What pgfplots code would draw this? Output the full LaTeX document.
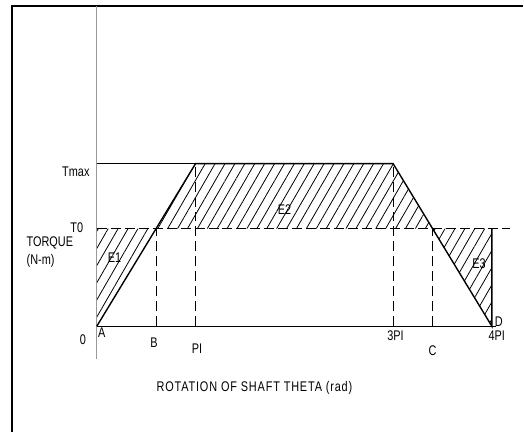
\documentclass[border=0pt]{standalone}
\usepackage{pgfplots}
\pgfplotsset{compat=1.18}
\usetikzlibrary{patterns.meta}
\usepackage{fontspec}
\setmainfont{Liberation Sans}[FakeStretch=0.78]
\newcommand{\lf}{\fontsize{14}{16}\selectfont}
\tikzset{lbl/.style={font=\lf, inner sep=0pt}}
\begin{document}
\begin{tikzpicture}
\begin{axis}[
  width=524pt, height=433pt, scale only axis,
  xmin=-0.9798, xmax=4.3131, ymin=-0.6503, ymax=2.0061,
  axis line style={draw=none}, ticks=none, clip=false,
]
\path (rel axis cs:0,0) rectangle (rel axis cs:1,1);
% hatched energy areas
\addplot[draw=none, pattern={Lines[angle=60,distance=8.6pt,line width=0.8pt]}] coordinates {(0,0) (0,0.6) (0.6,0.6) (0,0)};
\addplot[draw=none, pattern={Lines[angle=60,distance=8.6pt,line width=0.8pt]}] coordinates {(0.6,0.6) (1,1) (3,1) (3.4,0.6) (0.6,0.6)};
\addplot[draw=none, pattern={Lines[angle=60,distance=8.6pt,line width=0.8pt]}] coordinates {(3.4,0.6) (4,0) (4,0.6) (3.4,0.6)};
% frame
\addplot[black, line width=2.4pt] coordinates {(-0.859,-0.6503) (-0.859,1.969) (4.3131,1.969)};
% y axis
\addplot[black!40, line width=1.3pt] coordinates {(0,-0.2) (0,1.969)};
% base line and torque curve
\addplot[black, line width=1.4pt] coordinates {(0,0) (4.04,0)};
\addplot[black, line width=1.4pt] coordinates {(0,0) (1,1) (3,1) (4,0) (4,0.6)};
\addplot[black, line width=1.4pt] coordinates {(0,1) (1,1)};
% mean torque and dashed verticals
\addplot[black, line width=1.4pt, dash pattern=on 10pt off 4pt] coordinates {(0,0.6) (4.18,0.6)};
\addplot[black, line width=1.0pt, dash pattern=on 10pt off 5pt] coordinates {(0.6,0) (0.6,0.6)};
\addplot[black, line width=1.0pt, dash pattern=on 10pt off 5pt] coordinates {(1,0) (1,1)};
\addplot[black, line width=1.0pt, dash pattern=on 10pt off 5pt] coordinates {(3,0) (3,1)};
\addplot[black, line width=1.0pt, dash pattern=on 10pt off 5pt] coordinates {(3.4,0) (3.4,0.6)};
% labels
\node[lbl] at (axis cs:-0.212,0.951) {Tmax};
\node[lbl] at (axis cs:-0.202,0.605) {T0};
\node[lbl,anchor=west] at (axis cs:-0.712,0.515) {TORQUE};
\node[lbl,anchor=west] at (axis cs:-0.712,0.405) {(N-m)};
\node[lbl] at (axis cs:-0.141,-0.080) {0};
\node[lbl] at (axis cs:0.05,-0.037) {A};
\node[lbl] at (axis cs:0.58,-0.104) {B};
\node[lbl] at (axis cs:1.015,-0.135) {PI};
\node[lbl] at (axis cs:3.025,-0.061) {3PI};
\node[lbl] at (axis cs:3.40,-0.153) {C};
\node[lbl] at (axis cs:4.05,-0.061) {4PI};
\node[lbl] at (axis cs:4.07,0.031) {D};
\node[lbl] at (axis cs:0.18,0.42) {E1};
\node[lbl] at (axis cs:1.90,0.718) {E2};
\node[lbl] at (axis cs:3.87,0.386) {E3};
\node[lbl] at (axis cs:1.596,-0.380) {\addfontfeature{LetterSpace=6}ROTATION OF SHAFT THETA (rad)};
\end{axis}
\end{tikzpicture}
\end{document}
